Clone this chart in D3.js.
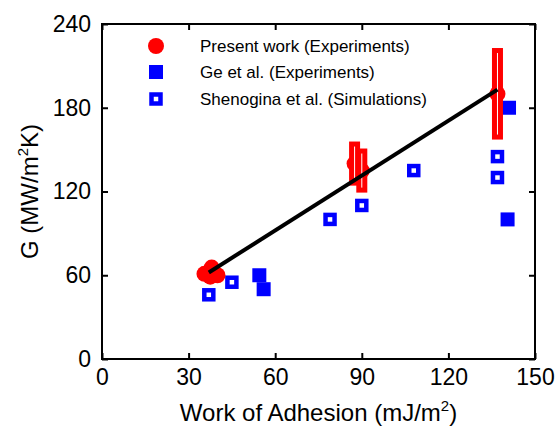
<!DOCTYPE html>
<html>
<head>
<meta charset="utf-8">
<script src="https://cdn.jsdelivr.net/npm/d3@7"></script>
<style>
  body { margin: 0; background: #fff; }
  text { font-family: "Liberation Sans", Arial, sans-serif; }
</style>
</head>
<body>
<div id="chart"></div>
<script>
////////////////// Data ////////////////////
var presentX = [35.5, 38, 40, 37.5, 87.5, 90, 137];
var presentY = [61, 65.5, 60, 59, 140, 135, 190];
var presentErr = [0, 0, 0, 0, 14, 14, 31];

var geX = [54.5, 56, 141, 140.5];
var geY = [60, 50, 180, 100];

var shenX = [37, 45, 79, 90, 108, 137, 137];
var shenY = [46, 55, 100, 110, 135, 145, 130];

var fitX = [37, 137];
var fitY = [62, 193];

var xTicks = [0, 30, 60, 90, 120, 150];
var yTicks = [0, 60, 120, 180, 240];

var legendLabels = ["Present work (Experiments)", "Ge et al. (Experiments)", "Shenogina et al. (Simulations)"];

////////////////// Chart Parameters ////////////////////
var svgWidth = 558;
var svgHeight = 429;
var margin = { top: 24, right: 23, bottom: 70, left: 102 };
var width = svgWidth - margin.left - margin.right;
var height = svgHeight - margin.top - margin.bottom;

var svg = d3.select("#chart").append("svg")
  .attr("width", svgWidth)
  .attr("height", svgHeight);

var chartGroup = svg.append("g")
  .attr("transform", `translate(${margin.left}, ${margin.top})`);

////////// Scales //////////
var x = d3.scaleLinear().domain([0, 150]).range([0, width]);
var y = d3.scaleLinear().domain([0, 240]).range([height, 0]);

////////// Axes (ticks inside, boxed) //////////
var tickLen = 6;
chartGroup.append("g")
  .attr("transform", `translate(0, ${height})`)
  .call(d3.axisBottom(x).tickValues(xTicks).tickSizeInner(-tickLen).tickSizeOuter(0).tickPadding(10))
  .call(g => g.selectAll("text").attr("font-size", 23).attr("fill", "#000"));

chartGroup.append("g")
  .call(d3.axisLeft(y).tickValues(yTicks).tickSizeInner(-tickLen).tickSizeOuter(0).tickPadding(11))
  .call(g => g.selectAll("text").attr("font-size", 23).attr("fill", "#000"));

chartGroup.append("g")
  .call(d3.axisTop(x).tickValues(xTicks).tickSizeInner(-tickLen).tickSizeOuter(0).tickFormat(""));

chartGroup.append("g")
  .attr("transform", `translate(${width}, 0)`)
  .call(d3.axisRight(y).tickValues(yTicks).tickSizeInner(-tickLen).tickSizeOuter(0).tickFormat(""));

chartGroup.selectAll(".domain").remove();
chartGroup.selectAll(".tick line").attr("stroke", "#000").attr("stroke-width", 2);

chartGroup.append("rect")
  .attr("width", width)
  .attr("height", height)
  .attr("fill", "none")
  .attr("stroke", "#000")
  .attr("stroke-width", 2);

////////// Axis labels //////////
var xLabel = svg.append("text")
  .attr("x", margin.left + width / 2)
  .attr("y", 421)
  .attr("text-anchor", "middle")
  .attr("font-size", 24);
xLabel.append("tspan").text("Work of Adhesion (mJ/m");
xLabel.append("tspan").attr("font-size", 15).attr("dy", -10).text("2");
xLabel.append("tspan").attr("dy", 10).text(")");

var yLabel = svg.append("text")
  .attr("transform", `translate(38, ${margin.top + height / 2}) rotate(-90)`)
  .attr("text-anchor", "middle")
  .attr("font-size", 24);
yLabel.append("tspan").text("G (MW/m");
yLabel.append("tspan").attr("font-size", 15).attr("dy", -10).text("2");
yLabel.append("tspan").attr("dy", 10).text("K)");

////////// Shenogina (open squares) //////////
chartGroup.selectAll("rect.shen")
  .data(shenX)
  .enter()
  .append("rect")
  .attr("class", "shen")
  .attr("x", (d, i) => x(d) - 4.5)
  .attr("y", (d, i) => y(shenY[i]) - 4.5)
  .attr("width", 9)
  .attr("height", 9)
  .attr("fill", "#fff")
  .attr("stroke", "#0000ff")
  .attr("stroke-width", 4.5);

////////// Ge (filled squares) //////////
chartGroup.selectAll("rect.ge")
  .data(geX)
  .enter()
  .append("rect")
  .attr("class", "ge")
  .attr("x", d => x(d) - 7)
  .attr("y", (d, i) => y(geY[i]) - 7)
  .attr("width", 14)
  .attr("height", 14)
  .attr("fill", "#0000ff");

////////// Present work: circles + error bars //////////
var present = presentX.map((d, i) => ({ x: d, y: presentY[i], e: presentErr[i] }));

chartGroup.selectAll("circle.present")
  .data(present)
  .enter()
  .append("circle")
  .attr("class", "present")
  .attr("cx", d => x(d.x))
  .attr("cy", d => y(d.y))
  .attr("r", 8)
  .attr("fill", "#ff0000");

chartGroup.selectAll("rect.err")
  .data(present.filter(d => d.e > 0))
  .enter()
  .append("rect")
  .attr("class", "err")
  .attr("x", d => x(d.x) - 3)
  .attr("y", d => y(d.y + d.e))
  .attr("width", 6)
  .attr("height", d => y(d.y - d.e) - y(d.y + d.e))
  .attr("fill", "#fff")
  .attr("stroke", "#ff0000")
  .attr("stroke-width", 5);

////////// Linear fit //////////
chartGroup.append("path")
  .datum(fitX.map((d, i) => [d, fitY[i]]))
  .attr("d", d3.line().x(d => x(d[0])).y(d => y(d[1])))
  .attr("stroke", "#000")
  .attr("stroke-width", 4)
  .attr("fill", "none");

////////// Legend //////////
var legend = svg.append("g");
var legendY = [46, 72, 99];

legend.append("circle")
  .attr("cx", 156).attr("cy", legendY[0]).attr("r", 8)
  .attr("fill", "#ff0000");
legend.append("rect")
  .attr("x", 149).attr("y", legendY[1] - 7).attr("width", 14).attr("height", 14)
  .attr("fill", "#0000ff");
legend.append("rect")
  .attr("x", 151.5).attr("y", legendY[2] - 4.5).attr("width", 9).attr("height", 9)
  .attr("fill", "#fff").attr("stroke", "#0000ff").attr("stroke-width", 4.5);

legend.selectAll("text")
  .data(legendLabels)
  .enter()
  .append("text")
  .attr("x", 200)
  .attr("y", (d, i) => legendY[i] + 6)
  .attr("font-size", 17)
  .text(d => d);
</script>
</body>
</html>
